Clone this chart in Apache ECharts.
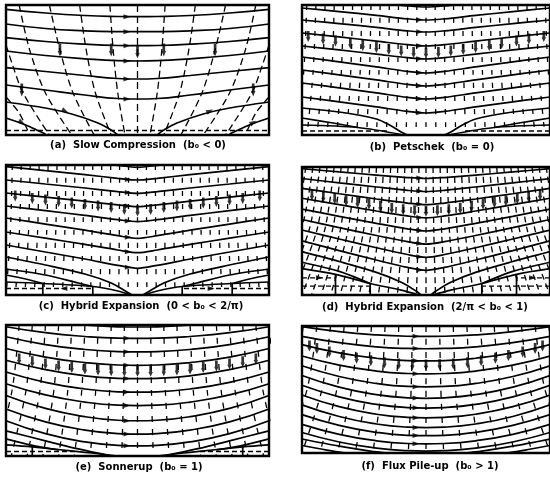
<!DOCTYPE html>
<html><head><meta charset="utf-8">
<script src="https://cdn.jsdelivr.net/npm/echarts@6/dist/echarts.min.js"></script>
<style>html,body{margin:0;padding:0;background:#fff}#c{width:550px;height:477px}</style>
</head><body><div id="c"></div>
<script>
// x stations for symmetric field lines (left half; mirrored to the right)
const S = [-1, -0.7, -0.4, -0.15, 0];

// ---------- (a) Slow Compression ----------
const aLines = [
  [4.3, 8, 10.5, 11.5, 11.7],
  [19, 23.5, 25.8, 26.6, 26.7],
  [32.7, 36.5, 39.2, 40.5, 40.7],
  [46, 50.5, 53.8, 55.7, 56],
  [62.7, 66.5, 70.5, 73.5, 74],
  [80, 85, 90, 93.5, 94]
];
const aOpen = [
  [[-1,97],[-0.7,103],[-0.5,109],[-0.3,118],[-0.2,125],[-0.15,130]],
  [[-1,113],[-0.85,120],[-0.75,126],[-0.7,129]]
];
const aStreams = [
  [[-0.9,0],[-0.82,45],[-0.7,88],[-0.5,130]],
  [[-0.67,0],[-0.59,45],[-0.49,88],[-0.33,130]],
  [[-0.44,0],[-0.39,45],[-0.32,88],[-0.2,130]],
  [[-0.21,0],[-0.185,45],[-0.15,88],[-0.095,130]],
  [[-1,40],[-0.95,60],[-0.87,88],[-0.67,130]],
  [[-1,92],[-0.9,108],[-0.82,130]]
];
const aStrip = [[[-1,125.5],[1,125.5]]];
const aFieldArrows = [[-0.08,11.7],[-0.08,26.7],[-0.08,40.7],[-0.08,56],[-0.08,74],[-0.08,94]];
const aSlantArrows = [[-0.55,106,-115],[0.55,106,-65],[-0.88,117.5,-120],[0.88,117.5,-60]];
const aFlowArrows = [[-0.59,45],[-0.2,45],[0,47],[-0.88,85]];

// ---------- (b) Petschek ----------
const bLines = [
  [-10, -6.4, -2.6, 0.8, 2],
  [3, 6.6, 10.4, 13.8, 15],
  [15, 18.6, 22.4, 25.8, 27],
  [28, 31.9, 36.1, 39.7, 41],
  [41, 44.9, 49.1, 52.7, 54],
  [52, 56.8, 61.9, 66.4, 68],
  [65, 69.8, 74.9, 79.4, 81],
  [78, 82.8, 87.9, 92.4, 94],
  [92, 96.8, 101.9, 106.4, 108]
];
const bOpen = [
  [[-1,103],[-0.7,107],[-0.4,114],[-0.28,121],[-0.2,127],[-0.15,130]],
  [[-1,113],[-0.75,118],[-0.55,122.5]],
  [[-1,120],[-0.55,122.5],[-0.2,129.5]]
];
const bStrip = [[[-1,126],[-0.3,126]]];
const bFieldArrows = [[-0.05,14.7],[-0.05,26.7],[-0.05,40.7],[-0.05,53.7],[-0.05,67.7],[-0.05,80.7],[-0.05,93.7],[-0.05,107.7]];
const bFlowArrows = [[0,48],[-0.1,47.5],[-0.2,46],[-0.3,44.5],[-0.4,42.5],[-0.51,40.5],[-0.61,38.5],[-0.73,36],[-0.83,34],[-0.95,31.5]];
const bCols = [0,-0.074,-0.148,-0.222,-0.296,-0.37,-0.444,-0.518,-0.592,-0.666,-0.74,-0.814,-0.888,-0.962];

// ---------- (c) Hybrid Expansion 0<b0<2/pi ----------
const cLines = [
  [-12, -7.7, -3.4, 0.4, 2.3],
  [1.7, 5.7, 9.7, 13.3, 15],
  [15, 19, 23, 26.6, 28.3],
  [28, 32.1, 36.2, 39.9, 41.7],
  [41, 45.7, 50.4, 54.7, 56.7],
  [53, 59.1, 65.2, 70.7, 73.3],
  [67, 73.2, 79.4, 85, 87.7],
  [80, 87, 94, 100.3, 103.3]
];
const cOpen = [
  [[-1,92],[-0.7,100],[-0.4,109],[-0.2,118],[-0.08,127],[-0.04,130]],
  [[-1,104],[-0.7,110],[-0.45,118],[-0.34,121.5]],
  [[-1,110],[-0.85,114],[-0.72,118.5]],
  [[-1,117],[-0.72,118.5],[-0.34,121.5],[-0.15,126],[-0.05,130]],
  [[-0.72,118.5],[-0.72,130]],
  [[-0.34,121.5],[-0.34,130]]
];
const cStrip = [[[-1,123.5],[-0.34,123.5]]];
const cFieldArrows = [[-0.07,14.5],[-0.07,27.6],[-0.07,41],[-0.07,55.9],[-0.07,72.3],[-0.07,86.7],[-0.07,102.3]];
const cSlantArrows = [[-0.56,123.5,90],[0.56,123.5,-90]];
const cFlowArrows = [[0,46],[-0.1,44.5],[-0.2,42.5],[-0.3,41],[-0.4,39.5],[-0.5,38],[-0.6,36.5],[-0.7,35],[-0.8,33.5],[-0.93,31]];
const cCols = [0,-0.068,-0.136,-0.204,-0.272,-0.34,-0.408,-0.476,-0.544,-0.612,-0.68,-0.748,-0.816,-0.884,-0.952];

// ---------- (d) Hybrid Expansion 2/pi<b0<1 ----------
const dLines = [
  [1.7, 5.0, 8.2, 10.7, 11.7],
  [11.7, 16.1, 20.3, 23.7, 25],
  [21.7, 27.2, 32.5, 36.6, 38.3],
  [31.7, 38.3, 44.7, 49.7, 51.7],
  [42.7, 50.1, 57.2, 62.8, 65],
  [53.3, 61.6, 69.6, 75.8, 78.3],
  [64, 73.1, 82, 88.9, 91.7],
  [75, 84.9, 94.5, 102, 105]
];
const dOpen = [
  [[-1,86],[-0.7,96],[-0.4,107],[-0.2,117],[-0.08,126],[-0.04,130]],
  [[-1,96.7],[-0.7,106],[-0.45,118.3]],
  [[-1,103.3],[-0.73,109],[-0.45,118.3],[-0.2,125],[-0.05,130]],
  [[-0.73,109],[-0.73,130]],
  [[-0.45,118.3],[-0.45,130]]
];
const dStrip = [[[-1,112.6],[-0.73,112.6]],[[-1,121],[-0.45,121]]];
const dFieldArrows = [[-0.05,11.2],[-0.05,24.5],[-0.05,37.8],[-0.05,51.2],[-0.05,64.5],[-0.05,77.8],[-0.05,91.2],[-0.05,104.5]];
const dSlantArrows = [[-0.86,112.6,-90],[0.86,112.6,-90]];
const dFlowArrows = [[0,45],[-0.092,44.5],[-0.184,43.4],[-0.276,42],[-0.368,40.1],[-0.46,37.8],[-0.552,36],[-0.644,34.2],[-0.736,32.2],[-0.828,30.4],[-0.92,28.4]];
const dCols = [0,-0.057,-0.114,-0.171,-0.228,-0.285,-0.342,-0.399,-0.456,-0.513,-0.57,-0.627,-0.684,-0.741,-0.798,-0.855,-0.912,-0.969];

// ---------- (e) Sonnerup ----------
const eLines = [
  [-10, -4, 0, 1.8, 2],
  [1.7, 7.6, 11.4, 13.1, 13.3],
  [11.7, 19.4, 24.3, 26.4, 26.7],
  [23.3, 31.8, 37.3, 39.7, 40],
  [35, 44.3, 50.4, 52.9, 53.3],
  [46.7, 56.9, 63.5, 66.3, 66.7],
  [58.3, 69.4, 76.5, 79.6, 80],
  [70, 82.8, 91, 94.5, 95],
  [83.3, 96.1, 104.3, 107.8, 108.3],
  [95, 107.8, 116, 119.5, 120]
];
const eOpen = [
  [[-1,105],[-0.7,115],[-0.45,123],[-0.2,130]],
  [[-1,113],[-0.8,119.5],[-0.6,124]],
  [[-1,119],[-0.8,121],[-0.45,125.7],[-0.35,127],[-0.15,130]],
  [[-0.8,121],[-0.8,130]]
];
const eStrip = [[[-1,125.5],[-0.45,125.5]]];
const eFieldArrows = [[-0.08,13.2],[-0.08,26.6],[-0.08,39.9],[-0.08,53.2],[-0.08,66.6],[-0.08,79.9],[-0.08,94.9],[-0.08,108.2],[-0.08,119.9]];
const eFlowArrows = [[0,46],[-0.1,45.85],[-0.2,45.4],[-0.3,44.65],[-0.4,43.6],[-0.5,42.25],[-0.6,40.6],[-0.7,38.65],[-0.8,36.4],[-0.9,33.85]];
const eCols = [0,-0.1,-0.2,-0.3,-0.4,-0.5,-0.6,-0.7,-0.8,-0.9,-1.0];

// ---------- (f) Flux Pile-up ----------
const fLines = [
  [0.7, 5.8, 9.1, 10.5, 10.7],
  [10.7, 17.1, 21.3, 23.0, 23.3],
  [19, 27.5, 33.0, 35.4, 35.7],
  [30.7, 40.0, 46.1, 48.6, 49],
  [40.7, 51.7, 58.8, 61.9, 62.3],
  [50.7, 62.6, 70.3, 73.5, 74],
  [60.7, 72.6, 80.3, 83.5, 84],
  [70.7, 82.6, 90.3, 93.5, 94],
  [80.7, 92.6, 100.3, 103.5, 104],
  [90.7, 101.7, 108.8, 111.9, 112.3],
  [100.7, 110.9, 117.5, 120.3, 120.7],
  [109, 118.7, 125, 127.6, 128]
];
const fOpen = [
  [[-1,115.7],[-0.7,123],[-0.45,128],[-0.3,130]],
  [[-1,122.3],[-0.8,127],[-0.65,130]]
];
const fFieldArrows = [[-0.08,10.5],[-0.08,23.1],[-0.08,35.5],[-0.08,48.8],[-0.08,62.1],[-0.08,73.8],[-0.08,83.8],[-0.08,93.8],[-0.08,103.8],[-0.08,112.1],[-0.08,120.5]];
const fFlowArrows = [[0,40],[-0.11,39.7],[-0.22,38.9],[-0.335,37.5],[-0.445,35.6],[-0.56,33.1],[-0.665,30.3],[-0.78,26.6],[-0.88,23],[-0.94,20.6]];
const fCols = [0,-0.11,-0.22,-0.33,-0.44,-0.55,-0.66,-0.77,-0.88,-0.99];

// ---------- captions ----------
const captions = [
  '(a)  Slow Compression  (b\u2080 < 0)',
  '(b)  Petschek  (b\u2080 = 0)',
  '(c)  Hybrid Expansion  (0 < b\u2080 < 2/\u03c0)',
  '(d)  Hybrid Expansion  (2/\u03c0 < b\u2080 < 1)',
  '(e)  Sonnerup  (b\u2080 = 1)',
  '(f)  Flux Pile-up  (b\u2080 > 1)'
];

// ---------- layout (positions/styles) ----------
const panels = [
  {left:6, top:5, width:263, height:130, cap:[138,145], lines:aLines, open:aOpen, streams:aStreams, strip:aStrip,
   fa:aFieldArrows, sa:aSlantArrows, flow:aFlowArrows, flowSym:'long', smooth:0.5},
  {left:302, top:5, width:256, height:130, cap:[432,147], lines:bLines, open:bOpen, strip:bStrip,
   fa:bFieldArrows, flow:bFlowArrows, cols:bCols, spread:0.08, dash:[5,8], smooth:0.35},
  {left:6, top:165, width:263, height:130, cap:[141,306], lines:cLines, open:cOpen, strip:cStrip,
   fa:cFieldArrows, sa:cSlantArrows, flow:cFlowArrows, cols:cCols, spread:0.05, dash:[5,8], smooth:0.3},
  {left:302, top:167, width:256, height:128, cap:[425,307], lines:dLines, open:dOpen, strip:dStrip,
   fa:dFieldArrows, sa:dSlantArrows, flow:dFlowArrows, cols:dCols, spread:0.35, dash:[6,4], smooth:0.3},
  {left:6, top:325, width:263, height:131, cap:[139,467], lines:eLines, open:eOpen, strip:eStrip,
   fa:eFieldArrows, flow:eFlowArrows, cols:eCols, spread:0.2, dash:[6,7], smooth:0.5},
  {left:302, top:326, width:256, height:127, cap:[430,466], lines:fLines, open:fOpen,
   fa:fFieldArrows, flow:fFlowArrows, cols:fCols, spread:0.3, dash:[6,7], smooth:0.5}
];

function mirrorFull(half){
  const out = half.slice();
  for (let i = half.length - 1; i >= 0; i--) {
    const p = half[i];
    if (p[0] === 0) continue;
    out.push([-p[0], p[1]]);
  }
  return out;
}
const flip = half => half.map(p => [-p[0], p[1]]);
const ARROW = 'path://M0.8,0 L3.2,0 L3.2,8 L4,8 L2,14 L0,8 L0.8,8 Z';

const grid = [], xAxis = [], yAxis = [], series = [], graphic = [];
panels.forEach((p, i) => {
  grid.push({left:p.left, top:p.top, width:p.width, height:p.height, show:true,
             borderColor:'#000', borderWidth:2.4, backgroundColor:'transparent'});
  xAxis.push({type:'value', gridIndex:i, min:-1, max:1, show:false});
  yAxis.push({type:'value', gridIndex:i, min:0, max:130, inverse:true, show:false});
  const base = {xAxisIndex:i, yAxisIndex:i, silent:true, animation:false};
  const addLine = (data, style, smooth, z) => series.push(Object.assign({type:'line', data, symbol:'none',
      smooth: smooth, lineStyle: style, z: z || 3}, base));
  const tick = {color:'#000', width:1.3, type:p.dash};
  if (p.cols) {
    p.cols.forEach(xm => {
      const col = [[xm,0],[xm*(1+0.3*p.spread),65],[xm*(1+p.spread),130]];
      addLine(col, tick, 0.3, 2);
      if (xm !== 0) addLine(flip(col), tick, 0.3, 2);
    });
  }
  const longDash = {color:'#000', width:1.3, type:[7,4]};
  if (p.streams) {
    p.streams.forEach(s => {
      addLine(s, longDash, 0.3, 2);
      addLine(flip(s), longDash, 0.3, 2);
    });
    addLine([[0,0],[0,130]], longDash, false, 2);
  }
  const solid = {color:'#000', width:1.7};
  p.lines.forEach(ys => {
    addLine(mirrorFull(S.map((x, k) => [x, ys[k]])), solid, p.smooth, 4);
  });
  (p.open || []).forEach(h => {
    addLine(h, solid, 0.3, 4);
    addLine(flip(h), solid, 0.3, 4);
  });
  const stripDash = {color:'#000', width:1.4, type:[5,3]};
  (p.strip || []).forEach(h => {
    addLine(h, stripDash, false, 4);
    if (h[0][0] !== -h[h.length-1][0]) addLine(flip(h), stripDash, false, 4);
  });
  const fa = [];
  p.fa.forEach(a => { fa.push({value:a, symbolRotate:-90}); });
  (p.sa || []).forEach(a => { fa.push({value:[a[0], a[1]], symbolRotate:a[2]}); });
  series.push(Object.assign({type:'scatter', data:fa, symbol:'triangle', symbolSize:[5,7],
      itemStyle:{color:'#000'}, z:6}, base));
  const fl = [];
  p.flow.forEach(a => { fl.push(a); if (a[0] !== 0) fl.push([-a[0], a[1]]); });
  series.push(Object.assign({type:'scatter', data:fl, symbol:ARROW,
      symbolSize: p.flowSym === 'long' ? [4.5,13] : [4.5,11], symbolKeepAspect:false,
      itemStyle:{color:'#000'}, z:6}, base));
  graphic.push({type:'text', x:p.cap[0], y:p.cap[1],
    style:{text:captions[i], fill:'#000', font:'bold 10px "DejaVu Sans"',
           textAlign:'center', textVerticalAlign:'middle', align:'center', verticalAlign:'middle'}});
});

const chart = echarts.init(document.getElementById('c'), null, {renderer:'canvas'});
chart.setOption({animation:false, backgroundColor:'#fff', grid, xAxis, yAxis, series, graphic});
</script></body></html>
